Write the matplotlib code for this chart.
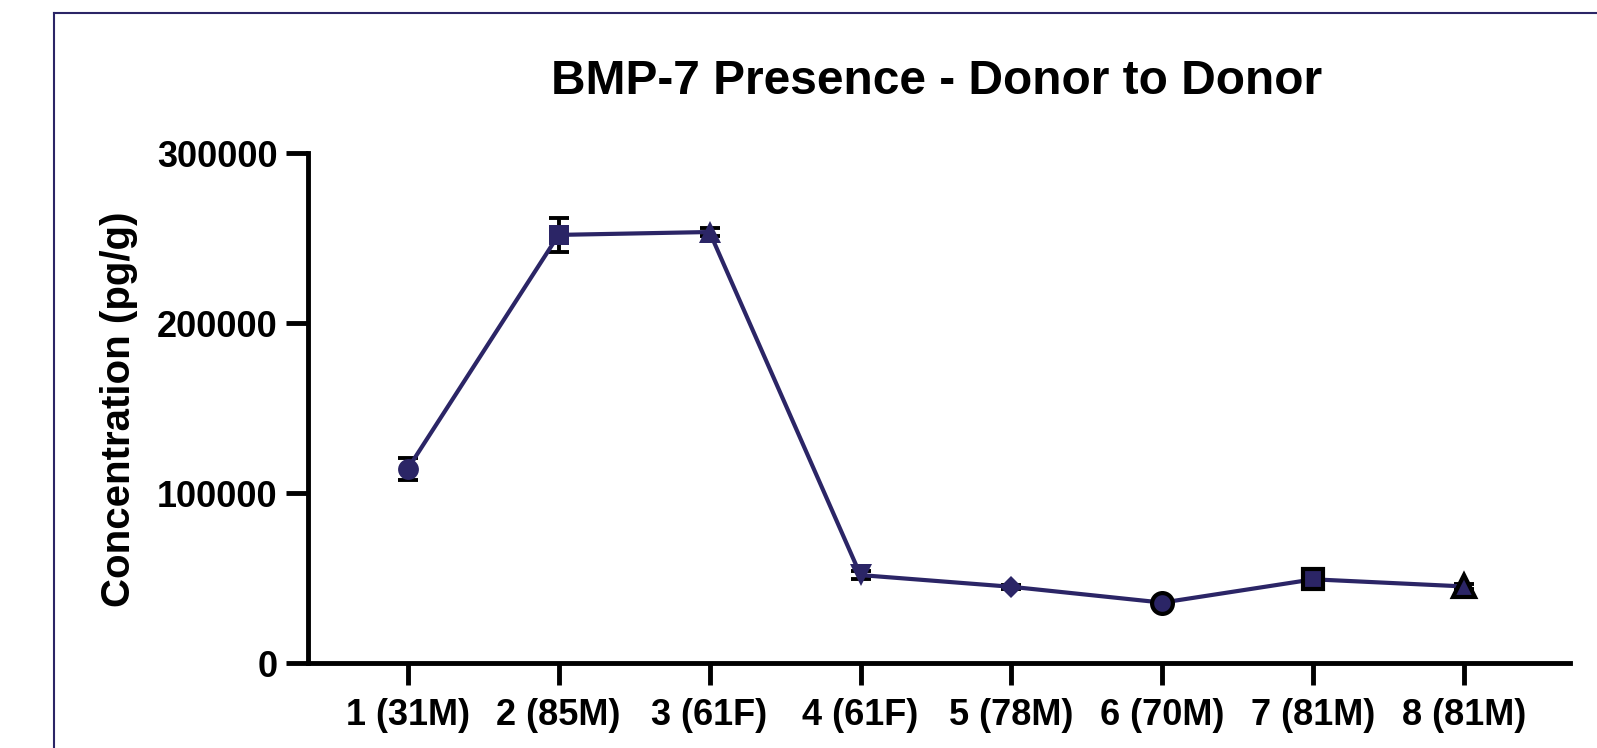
import matplotlib
matplotlib.use("Agg")
import matplotlib.pyplot as plt
from matplotlib.lines import Line2D
from matplotlib.ticker import FixedLocator, FuncFormatter

plt.rcParams['font.family'] = ['Liberation Sans', 'DejaVu Sans']
plt.rcParams['font.weight'] = 'bold'

# Donor samples and measured BMP-7 concentration (pg/g)
donors = ["1 (31M)", "2 (85M)", "3 (61F)", "4 (61F)",
          "5 (78M)", "6 (70M)", "7 (81M)", "8 (81M)"]
concentration = [114300, 252000, 253700, 51900, 45000, 35700, 49400, 45200]
sem = [6500, 9800, 2500, 2200, 1200, 1200, 1500, 1500]
y_ticks = [0, 100000, 200000, 300000]

navy = "#2b2566"
markers = ["o", "s", "^", "v", "D", "o", "s", "^"]
marker_sizes = [15, 15, 16, 16, 11, 15, 15, 16]
edge_colors = [navy, navy, navy, navy, navy, "black", "black", "black"]
edge_widths = [0, 0, 0, 0, 0, 3, 3, 3]

fig = plt.figure(figsize=(15.97, 7.48), dpi=100)
W, H = 1597, 748

# outer navy frame (left and top edges visible)
fig.add_artist(Line2D([54 / W, 54 / W], [1 - 13 / H, -0.05], color=navy, lw=1.5,
                      transform=fig.transFigure))
fig.add_artist(Line2D([54 / W, 1.05], [1 - 13 / H, 1 - 13 / H], color=navy, lw=1.5,
                      transform=fig.transFigure))

left, right, bottom, top = 308, 1570, 663.3, 153.3
ax = fig.add_axes([left / W, 1 - bottom / H, (right - left) / W, (bottom - top) / H])

x = list(range(1, len(donors) + 1))
ax.errorbar(x, concentration, yerr=sem, fmt="none", ecolor="black",
            elinewidth=2.8, capsize=7.2, capthick=2.8, zorder=2)
ax.plot(x, concentration, color=navy, lw=3, zorder=3)
for xi, yi, m, ms, ec, ew in zip(x, concentration, markers, marker_sizes,
                                 edge_colors, edge_widths):
    ax.plot([xi], [yi], marker=m, ms=ms, mfc=navy, mec=ec, mew=ew,
            linestyle="none", zorder=4)

ax.set_xlim(0.34, 8.7)
ax.set_ylim(0, 300000)
ax.set_xticks(x)
ax.set_xticklabels(donors)
ax.yaxis.set_major_locator(FixedLocator(y_ticks))
ax.yaxis.set_major_formatter(FuncFormatter(lambda v, p: f"{int(v)}"))

for side in ("top", "right"):
    ax.spines[side].set_visible(False)
for side in ("left", "bottom"):
    ax.spines[side].set_linewidth(3.5)
    ax.spines[side].set_capstyle("projecting")

ax.tick_params(axis="both", direction="out", length=16, width=3.5,
               labelsize=26, colors="black")
ax.tick_params(axis="x", pad=9)
ax.tick_params(axis="y", pad=6)
for lbl in ax.get_xticklabels() + ax.get_yticklabels():
    lbl.set_fontweight("bold")

fig.text(119 / W, 1 - 409 / H, "Concentration (pg/g)", rotation=90,
         ha="center", va="center", fontsize=29, fontweight="bold")
fig.text(937 / W, 1 - 94 / H, "BMP-7 Presence - Donor to Donor",
         ha="center", va="baseline", fontsize=34.5, fontweight="bold")

fig.savefig("out.png", dpi=100, facecolor="white")
